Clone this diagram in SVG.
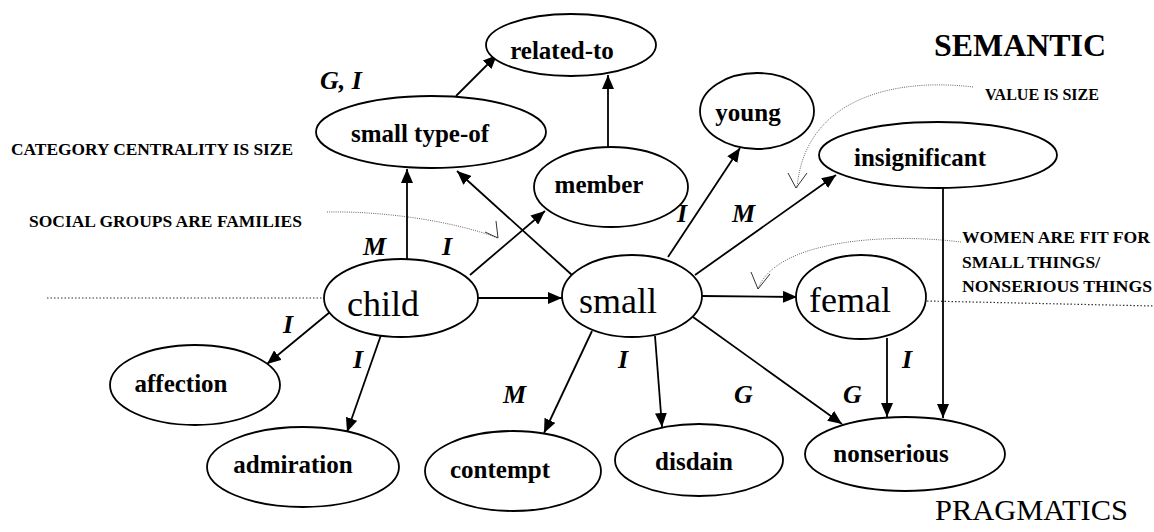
<svg xmlns="http://www.w3.org/2000/svg" width="1154" height="532" viewBox="0 0 1154 532" font-family="Liberation Serif, DejaVu Serif, serif">
  <style>
    .node ellipse { fill: #fff; stroke: #000; stroke-width: 1.8; }
    .lbl { font-size: 25px; font-weight: bold; fill: #000; text-anchor: middle; }
    .big { font-size: 36px; fill: #000; text-anchor: middle; }
    .edge { stroke: #000; stroke-width: 1.8; fill: none; marker-end: url(#ah); }
    .tag { font-size: 26px; font-style: italic; font-weight: bold; fill: #000; }
    .note { font-size: 17px; font-weight: bold; fill: #000; }
    .dots { stroke: #333; stroke-width: 1.2; stroke-dasharray: 1.5 2; fill: none; }
    .hint { stroke: #666; stroke-width: 1; stroke-dasharray: 1 1.2; fill: none; }
    .vee { stroke: #333; stroke-width: 1; fill: none; }
  </style>
  <defs>
    <marker id="ah" markerWidth="14" markerHeight="12" refX="14" refY="6" orient="auto" markerUnits="userSpaceOnUse">
      <path d="M0,0 L14,6 L0,12 z" fill="#000"/>
    </marker>
  </defs>
  <rect width="1154" height="532" fill="#fff"/>

  <!-- level separators -->
  <line class="dots" x1="47" y1="298" x2="325" y2="298"/>
  <line class="dots" x1="927" y1="301" x2="1154" y2="306"/>

  <!-- section headings and metaphor notes -->
  <text x="934" y="56" font-size="32" font-weight="bold" textLength="172" lengthAdjust="spacingAndGlyphs">SEMANTIC</text>
  <text x="935" y="520" font-size="30" textLength="193" lengthAdjust="spacingAndGlyphs">PRAGMATICS</text>
  <text class="note" x="11" y="155" textLength="282" lengthAdjust="spacingAndGlyphs">CATEGORY CENTRALITY IS SIZE</text>
  <text class="note" x="29" y="227" textLength="273" lengthAdjust="spacingAndGlyphs">SOCIAL GROUPS ARE FAMILIES</text>
  <text class="note" x="985" y="100" textLength="114" lengthAdjust="spacingAndGlyphs">VALUE IS SIZE</text>
  <text class="note" x="962" y="243" textLength="188" lengthAdjust="spacingAndGlyphs">WOMEN ARE FIT FOR</text>
  <text class="note" x="962" y="268" textLength="138" lengthAdjust="spacingAndGlyphs">SMALL THINGS/</text>
  <text class="note" x="962" y="292" textLength="190" lengthAdjust="spacingAndGlyphs">NONSERIOUS THINGS</text>

  <!-- metaphor pointers -->
  <g id="pointers">
    <path class="hint" stroke="#999" d="M327,212 C380,211 450,220 498,238"/>
    <polyline class="vee" points="485,232 498,238 496,221"/>
    <path class="hint" d="M973,87 C900,78 805,95 797,188"/>
    <polyline class="vee" points="788,173 796,188 807,173"/>
    <path class="hint" d="M961,242 C880,232 775,242 758,289"/>
    <polyline class="vee" points="751,272 758,289 770,274"/>
  </g>

  <!-- connectors -->
  <g id="connectors">
    <line class="edge" x1="456" y1="96" x2="497" y2="55"/>
    <line class="edge" x1="608" y1="147" x2="608" y2="75"/>
    <line class="edge" x1="407" y1="259" x2="407" y2="169"/>
    <line class="edge" x1="572" y1="275" x2="457" y2="171"/>
    <line class="edge" x1="470" y1="275" x2="545" y2="211"/>
    <line class="edge" x1="668" y1="257" x2="740" y2="148"/>
    <line class="edge" x1="695" y1="275" x2="836" y2="175"/>
    <line class="edge" x1="478" y1="298" x2="562" y2="298"/>
    <line class="edge" x1="702" y1="296" x2="797" y2="297"/>
    <line class="edge" x1="330" y1="312" x2="267" y2="364"/>
    <line class="edge" x1="381" y1="335" x2="347" y2="432"/>
    <line class="edge" x1="592" y1="331" x2="544" y2="433"/>
    <line class="edge" x1="655" y1="336" x2="662" y2="427"/>
    <line class="edge" x1="693" y1="317" x2="842" y2="424"/>
    <line class="edge" x1="887" y1="338" x2="887" y2="417"/>
    <line class="edge" x1="943" y1="188" x2="943" y2="418"/>
  </g>

  <!-- connector tags -->
  <g id="tags">
    <text class="tag" x="320" y="89">G, I</text>
    <text class="tag" x="363" y="255">M</text>
    <text class="tag" x="442" y="255">I</text>
    <text class="tag" x="677" y="222">I</text>
    <text class="tag" x="732" y="222">M</text>
    <text class="tag" x="283" y="333">I</text>
    <text class="tag" x="353" y="368">I</text>
    <text class="tag" x="618" y="368">I</text>
    <text class="tag" x="503" y="403">M</text>
    <text class="tag" x="734" y="403">G</text>
    <text class="tag" x="843" y="403">G</text>
    <text class="tag" x="902" y="368">I</text>
  </g>

  <!-- nodes -->
  <g id="related-to" class="node">
    <ellipse cx="571" cy="45" rx="85" ry="31"/>
    <text class="lbl" x="562" y="59">related-to</text>
  </g>
  <g id="small-type-of" class="node">
    <ellipse cx="431" cy="132" rx="115" ry="36"/>
    <text class="lbl" x="420" y="142">small type-of</text>
  </g>
  <g id="member" class="node">
    <ellipse cx="611" cy="187" rx="77" ry="40"/>
    <text class="lbl" x="599" y="193">member</text>
  </g>
  <g id="young" class="node">
    <ellipse cx="757" cy="111" rx="57" ry="38"/>
    <text class="lbl" x="748" y="121">young</text>
  </g>
  <g id="insignificant" class="node">
    <ellipse cx="938" cy="155" rx="119" ry="33"/>
    <text class="lbl" x="920" y="166">insignificant</text>
  </g>
  <g id="child" class="node">
    <ellipse cx="401" cy="298" rx="77" ry="39"/>
    <text class="big" x="383" y="316">child</text>
  </g>
  <g id="small" class="node">
    <ellipse cx="632" cy="296" rx="70" ry="41"/>
    <text class="big" x="618" y="313">small</text>
  </g>
  <g id="femal" class="node">
    <ellipse cx="861" cy="297" rx="65" ry="42"/>
    <text class="big" x="850" y="312" font-size="32">femal</text>
  </g>
  <g id="affection" class="node">
    <ellipse cx="195" cy="385" rx="85" ry="40"/>
    <text class="lbl" x="181" y="392">affection</text>
  </g>
  <g id="admiration" class="node">
    <ellipse cx="303" cy="467" rx="96" ry="40"/>
    <text class="lbl" x="293" y="473">admiration</text>
  </g>
  <g id="contempt" class="node">
    <ellipse cx="513" cy="471" rx="88" ry="40"/>
    <text class="lbl" x="500" y="478">contempt</text>
  </g>
  <g id="disdain" class="node">
    <ellipse cx="699" cy="460" rx="84" ry="36"/>
    <text class="lbl" x="694" y="470">disdain</text>
  </g>
  <g id="nonserious" class="node">
    <ellipse cx="905" cy="454" rx="100" ry="37"/>
    <text class="lbl" x="891" y="462">nonserious</text>
  </g>
</svg>
